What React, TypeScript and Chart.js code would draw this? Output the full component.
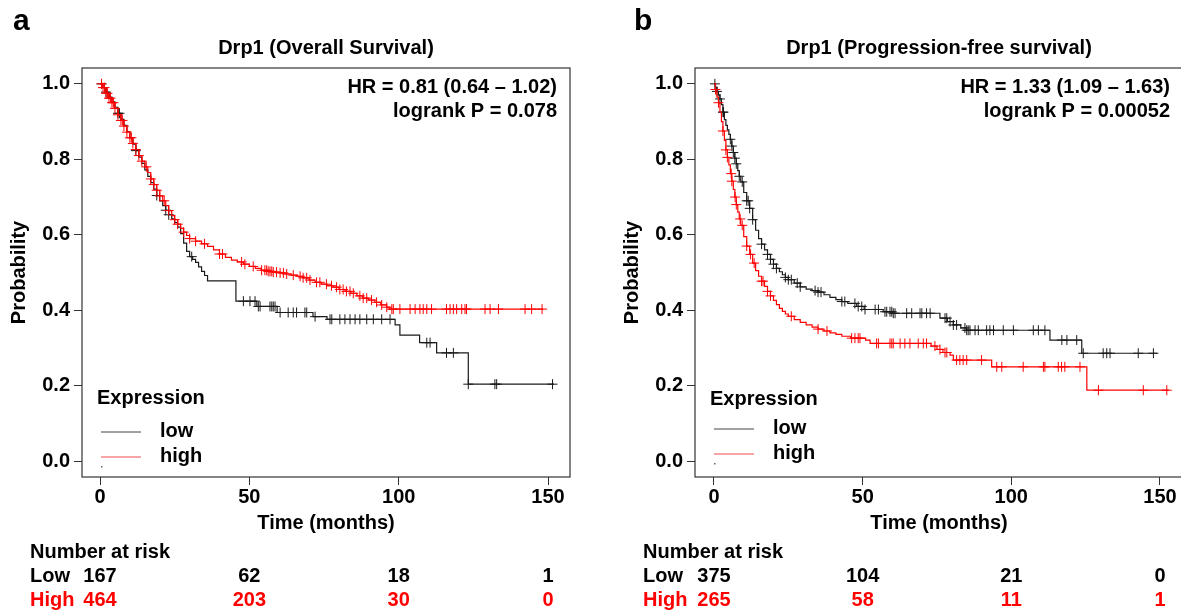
import React, { useEffect, useRef } from 'react';
import { Chart, registerables } from 'chart.js';

Chart.register(...registerables);

// ---------- Data ----------
const X_TICKS = [0, 50, 100, 150];
const Y_TICKS = [0, 0.2, 0.4, 0.6, 0.8, 1.0];

// Panel a : Overall survival  [time (months), survival]
const OS_LOW_STEPS: [number, number][] = [
  [0, 1], [1, 0.99], [2, 0.978], [3, 0.965], [4, 0.952], [5, 0.938], [6, 0.922], [7, 0.906], [8, 0.89], [9, 0.873],
  [10, 0.857], [11, 0.84], [12, 0.823], [13, 0.806], [14, 0.789], [15, 0.772], [16, 0.755], [17, 0.738], [18, 0.721],
  [19, 0.704], [20, 0.69], [21, 0.677], [22, 0.665], [23, 0.653], [24, 0.642], [25, 0.632], [26, 0.62], [27, 0.603],
  [28, 0.578], [29, 0.556], [30, 0.542], [31, 0.535], [32, 0.527], [33, 0.515], [34, 0.503], [35, 0.492], [36, 0.478],
  [45.5, 0.424], [52.5, 0.41], [59.3, 0.394], [71.3, 0.383], [76, 0.376], [98.8, 0.361], [100.4, 0.334], [107, 0.314],
  [112.7, 0.287], [123.3, 0.204], [152, 0.204],
];
const OS_LOW_CENSOR = [
  0.5, 2, 6, 6.5, 12, 19, 22, 23, 30.7, 48, 50.2, 51.9, 53, 53.6, 56.9, 57.5, 58, 58.6, 60.3, 63, 64.7, 65.8, 68.6,
  69.2, 72, 77, 77.6, 80.3, 82, 83.7, 85.4, 87, 89.3, 91.5, 94.3, 97.1, 109.4, 110.5, 116, 118.3, 123.3, 132.2, 132.8,
  151.5,
];
const OS_HIGH_STEPS: [number, number][] = [
  [0, 1], [1, 0.99], [2, 0.975], [3, 0.962], [4, 0.95], [5, 0.935], [6, 0.918], [7, 0.903], [8, 0.888], [9, 0.872],
  [10, 0.857], [11, 0.842], [12, 0.826], [13, 0.81], [14, 0.795], [15, 0.78], [16, 0.765], [17, 0.748], [18, 0.733],
  [19, 0.718], [20, 0.703], [21, 0.69], [22, 0.677], [23, 0.664], [24, 0.651], [25, 0.64], [26, 0.628], [27, 0.617],
  [28, 0.607], [29, 0.598], [30, 0.59], [32, 0.583], [34, 0.576], [36, 0.569], [38, 0.56], [40, 0.549], [42, 0.54],
  [44, 0.533], [46, 0.528], [48, 0.522], [50, 0.516], [52, 0.511], [54, 0.506], [56, 0.503], [58, 0.501], [60, 0.499],
  [62, 0.496], [64, 0.493], [66, 0.49], [68, 0.486], [70, 0.48], [72, 0.474], [74, 0.469], [76, 0.465], [78, 0.461],
  [80, 0.455], [82, 0.45], [84, 0.445], [86, 0.438], [88, 0.432], [90, 0.427], [92, 0.421], [94, 0.414], [96, 0.408],
  [97, 0.403], [148.4, 0.403],
];
const OS_HIGH_CENSOR = [
  0.5, 1, 1.5, 2, 2.5, 3, 3.5, 4, 4.5, 5, 6, 7, 7.5, 8, 9, 10, 10.5, 11, 12, 13, 14, 15.5, 17, 18, 19, 20, 21.5, 23,
  25, 26, 28, 30, 32, 35, 40, 41, 47.4, 48.5, 51.3, 54.1, 55.2, 55.8, 56.3, 56.9, 57.5, 58, 59.1, 60.3, 61.4, 62.5,
  64.7, 67, 68, 69.2, 70.3, 72.5, 73.6, 75.8, 77.5, 79.2, 80.3, 81.4, 82.5, 83.7, 84.8, 87, 88.1, 89.3, 90.9, 92.6,
  94.3, 96, 97.7, 98.2, 100.4, 103.8, 105.5, 107.1, 108.2, 109.4, 111, 116, 117.2, 118.3, 119.4, 121.1, 122.2, 122.7,
  128.9, 130.6, 133.4, 142.3, 144.5, 148,
];
const OS_RISK_LOW = [167, 62, 18, 1];
const OS_RISK_HIGH = [464, 203, 30, 0];

// Panel b : Progression-free survival
const PFS_LOW_STEPS: [number, number][] = [
  [0, 1], [0.5, 0.99], [1, 0.98], [1.5, 0.97], [2, 0.96], [2.5, 0.945], [3, 0.925], [3.5, 0.905], [4, 0.89],
  [4.5, 0.878], [5, 0.866], [5.5, 0.853], [6, 0.835], [6.5, 0.818], [7, 0.803], [7.5, 0.788], [8, 0.77], [8.5, 0.755],
  [9, 0.74], [10, 0.712], [11, 0.69], [12, 0.67], [13, 0.64], [14, 0.612], [15, 0.59], [16, 0.575], [17, 0.56],
  [18, 0.548], [19, 0.535], [20, 0.522], [21, 0.511], [22, 0.502], [23, 0.494], [24, 0.487], [25, 0.481], [27, 0.472],
  [29, 0.462], [31, 0.456], [33, 0.452], [35, 0.448], [37, 0.441], [39, 0.434], [41, 0.428], [43, 0.423], [45, 0.418],
  [48, 0.41], [50.5, 0.402], [56.9, 0.396], [60, 0.392], [76, 0.379], [78.5, 0.37], [80.5, 0.361], [83, 0.353],
  [85, 0.347], [113, 0.321], [123.7, 0.286], [149, 0.286],
];
const PFS_LOW_CENSOR = [
  0.3, 1, 2, 3, 3.2, 5.5, 6, 6.5, 7, 7.5, 8.5, 9.5, 11, 11.5, 12, 13, 16, 18, 19, 20, 21, 24, 25, 26, 28, 29, 34, 35,
  36, 43, 44, 47.4, 48.5, 49.7, 50.8, 54.2, 55.3, 57.5, 58.1, 59.2, 59.8, 60.3, 60.9, 64.8, 66.5, 69.3, 69.9, 71.5,
  72.7, 77.7, 78.3, 79.4, 80.5, 81.6, 84.4, 85, 85.5, 86.1, 87.8, 88.9, 91.7, 92.8, 94, 97.3, 100.7, 107.4, 109.1,
  111.3, 117, 118.7, 122, 124.2, 130.9, 132.1, 133.2, 142.7, 147.8,
];
const PFS_HIGH_STEPS: [number, number][] = [
  [0, 1], [0.5, 0.985], [1, 0.965], [1.5, 0.95], [2, 0.925], [2.5, 0.9], [3, 0.875], [3.5, 0.85], [4, 0.825],
  [4.5, 0.805], [5, 0.785], [5.5, 0.762], [6, 0.742], [6.5, 0.72], [7, 0.7], [7.5, 0.68], [8, 0.66], [8.5, 0.642],
  [9, 0.625], [10, 0.595], [11, 0.57], [12, 0.548], [13, 0.525], [14, 0.505], [15, 0.49], [16, 0.477], [17, 0.463],
  [18, 0.45], [19, 0.438], [20, 0.426], [21, 0.415], [22, 0.405], [23, 0.397], [24, 0.39], [25, 0.384], [27, 0.375],
  [29, 0.368], [31, 0.361], [33, 0.355], [35, 0.35], [37, 0.345], [39, 0.34], [41, 0.336], [43, 0.331], [46, 0.326],
  [51, 0.321], [52.5, 0.312], [73, 0.305], [75, 0.296], [77, 0.288], [79.4, 0.281], [80.5, 0.268], [93.4, 0.25],
  [125.4, 0.188], [153, 0.188],
];
const PFS_HIGH_CENSOR = [
  0.5, 1.5, 3, 4, 4.5, 5.8, 6, 7.1, 7.5, 8.8, 9.5, 11, 12.3, 13.5, 16, 16.5, 18, 19, 26, 35, 38, 46.3, 47.4, 48.5,
  49.1, 54.7, 55.3, 59.2, 59.8, 60.3, 62.6, 64.2, 65.9, 68.7, 70.4, 71.5, 74.3, 76, 77.7, 78.3, 81.6, 82.7, 83.8, 85,
  90, 95.1, 96.8, 104, 110.8, 111.3, 115.8, 116.9, 118, 123.1, 129.3, 144.4, 152.3,
];
const PFS_RISK_LOW = [375, 104, 21, 0];
const PFS_RISK_HIGH = [265, 58, 11, 1];

// ---------- helpers ----------
const FONT = '"Liberation Sans", Arial, Helvetica, sans-serif';
const bold = (px: number) => `bold ${px}px ${FONT}`;
const LOW_COLOR = '#1a1a1a';
const HIGH_COLOR = '#ff0000';

function survAt(steps: [number, number][], t: number) {
  let s = 1;
  for (const [st, sv] of steps) {
    if (st <= t) s = sv;
    else break;
  }
  return s;
}

type PanelCfg = {
  letter: string;
  title: string;
  hr: string;
  p: string;
  lowSteps: [number, number][];
  lowCensor: number[];
  highSteps: [number, number][];
  highCensor: number[];
  riskLow: number[];
  riskHigh: number[];
  xMin: number;
  xMax: number;
  yAxisWidth: number;
  padRight: number;
  letterX: number;
  yTitleX: number;
  hrRight: number;
  legendX: number;
  legendY: [number, number, number];
  riskX: number;
};

const PANEL_A: PanelCfg = {
  letter: 'a',
  title: 'Drp1 (Overall Survival)',
  hr: 'HR = 0.81 (0.64 \u2013 1.02)',
  p: 'logrank P = 0.078',
  lowSteps: OS_LOW_STEPS,
  lowCensor: OS_LOW_CENSOR,
  highSteps: OS_HIGH_STEPS,
  highCensor: OS_HIGH_CENSOR,
  riskLow: OS_RISK_LOW,
  riskHigh: OS_RISK_HIGH,
  xMin: -6.03,
  xMax: 157.35,
  yAxisWidth: 82,
  padRight: 30,
  letterX: 13,
  yTitleX: 19,
  hrRight: 557,
  legendX: 97,
  legendY: [398, 431, 456],
  riskX: 30,
};

const PANEL_B: PanelCfg = {
  letter: 'b',
  title: 'Drp1 (Progression-free survival)',
  hr: 'HR = 1.33 (1.09 \u2013 1.63)',
  p: 'logrank P = 0.00052',
  lowSteps: PFS_LOW_STEPS,
  lowCensor: PFS_LOW_CENSOR,
  highSteps: PFS_HIGH_STEPS,
  highCensor: PFS_HIGH_CENSOR,
  riskLow: PFS_RISK_LOW,
  riskHigh: PFS_RISK_HIGH,
  xMin: -6.39,
  xMax: 157.75,
  yAxisWidth: 95,
  padRight: 17,
  letterX: 34,
  yTitleX: 32,
  hrRight: 570,
  legendX: 110,
  legendY: [399, 428, 453],
  riskX: 43,
};

function makeConfig(cfg: PanelCfg): any {
  const decor = {
    id: 'kmDecor',
    afterDraw(chart: any) {
      const { ctx, chartArea: a, scales } = chart;
      const xs = scales.x;
      ctx.save();
      // plot box
      ctx.strokeStyle = '#333';
      ctx.lineWidth = 1.2;
      ctx.strokeRect(a.left, a.top, a.right - a.left, a.bottom - a.top);

      ctx.fillStyle = '#000';
      // panel letter
      ctx.font = bold(30);
      ctx.textAlign = 'left';
      ctx.textBaseline = 'alphabetic';
      ctx.fillText(cfg.letter, cfg.letterX, 30);

      // title
      ctx.font = bold(20);
      ctx.textAlign = 'center';
      ctx.textBaseline = 'middle';
      ctx.fillText(cfg.title, (a.left + a.right) / 2, 48);

      // HR / p-value
      ctx.textAlign = 'right';
      ctx.fillText(cfg.hr, cfg.hrRight, 87);
      ctx.fillText(cfg.p, cfg.hrRight, 111);

      // legend
      const [yE, yL, yH] = cfg.legendY;
      ctx.textAlign = 'left';
      ctx.fillText('Expression', cfg.legendX, yE);
      ctx.fillText('low', cfg.legendX + 63, yL);
      ctx.fillText('high', cfg.legendX + 63, yH);
      ctx.lineWidth = 1;
      ctx.strokeStyle = '#444';
      ctx.beginPath();
      ctx.moveTo(cfg.legendX + 4, yL + 1);
      ctx.lineTo(cfg.legendX + 44, yL + 1);
      ctx.stroke();
      ctx.strokeStyle = '#f24a4a';
      ctx.beginPath();
      ctx.moveTo(cfg.legendX + 4, yH + 1);
      ctx.lineTo(cfg.legendX + 44, yH + 1);
      ctx.stroke();
      ctx.fillStyle = '#666';
      ctx.fillRect(cfg.legendX + 4, yH + 10, 1.5, 1.5);
      ctx.fillStyle = '#000';

      // axis titles
      ctx.textAlign = 'center';
      ctx.fillText('Time (months)', (a.left + a.right) / 2, 523);
      ctx.save();
      ctx.translate(cfg.yTitleX, (a.top + a.bottom) / 2);
      ctx.rotate(-Math.PI / 2);
      ctx.fillText('Probability', 0, 0);
      ctx.restore();

      // number at risk
      ctx.textAlign = 'left';
      ctx.fillText('Number at risk', cfg.riskX, 552);
      ctx.fillText('Low', cfg.riskX, 576);
      ctx.fillStyle = HIGH_COLOR;
      ctx.fillText('High', cfg.riskX, 600);
      ctx.textAlign = 'center';
      X_TICKS.forEach((t, i) => {
        const px = xs.getPixelForValue(t);
        ctx.fillStyle = '#000';
        ctx.fillText(String(cfg.riskLow[i]), px, 576);
        ctx.fillStyle = HIGH_COLOR;
        ctx.fillText(String(cfg.riskHigh[i]), px, 600);
      });
      ctx.restore();
    },
  };

  const toPts = (steps: [number, number][]) => steps.map(([x, y]) => ({ x, y }));
  const censPts = (steps: [number, number][], cens: number[]) => cens.map((t) => ({ x: t, y: survAt(steps, t) }));

  return {
    type: 'scatter',
    data: {
      datasets: [
        {
          label: 'high',
          data: toPts(cfg.highSteps),
          showLine: true,
          stepped: 'before',
          borderColor: HIGH_COLOR,
          borderWidth: 1.2,
          pointRadius: 0,
          fill: false,
          order: 1,
        },
        {
          label: 'high censored',
          data: censPts(cfg.highSteps, cfg.highCensor),
          showLine: false,
          pointStyle: 'cross',
          pointRadius: 5,
          borderColor: HIGH_COLOR,
          backgroundColor: HIGH_COLOR,
          pointBorderWidth: 1,
          order: 0,
        },
        {
          label: 'low',
          data: toPts(cfg.lowSteps),
          showLine: true,
          stepped: 'before',
          borderColor: LOW_COLOR,
          borderWidth: 1.2,
          pointRadius: 0,
          fill: false,
          order: 3,
        },
        {
          label: 'low censored',
          data: censPts(cfg.lowSteps, cfg.lowCensor),
          showLine: false,
          pointStyle: 'cross',
          pointRadius: 5,
          borderColor: LOW_COLOR,
          backgroundColor: LOW_COLOR,
          pointBorderWidth: 1,
          order: 2,
        },
      ],
    },
    options: {
      responsive: false,
      animation: false,
      devicePixelRatio: 1,
      layout: { padding: { left: 0, right: cfg.padRight, top: 68, bottom: 93 } },
      plugins: {
        legend: { display: false },
        tooltip: { enabled: false },
        title: { display: false },
      },
      scales: {
        x: {
          type: 'linear',
          min: cfg.xMin,
          max: cfg.xMax,
          afterBuildTicks: (scale: any) => {
            scale.ticks = X_TICKS.map((v) => ({ value: v }));
          },
          afterFit: (scale: any) => {
            scale.height = 40;
          },
          grid: { drawOnChartArea: false, drawTicks: true, tickLength: 8, color: '#333', lineWidth: 1 },
          border: { display: false },
          ticks: {
            color: '#000',
            font: { family: FONT, size: 20, weight: 'bold' },
            padding: 0,
            maxRotation: 0,
            autoSkip: false,
            callback: (v: any) => String(v),
          },
        },
        y: {
          type: 'linear',
          min: -0.042,
          max: 1.042,
          afterBuildTicks: (scale: any) => {
            scale.ticks = Y_TICKS.map((v) => ({ value: v }));
          },
          afterFit: (scale: any) => {
            scale.width = cfg.yAxisWidth;
          },
          grid: { drawOnChartArea: false, drawTicks: true, tickLength: 8, color: '#333', lineWidth: 1 },
          border: { display: false },
          ticks: {
            color: '#000',
            font: { family: FONT, size: 20, weight: 'bold' },
            padding: 4,
            autoSkip: false,
            callback: (v: any) => Number(v).toFixed(1),
          },
        },
      },
    },
    plugins: [decor],
  };
}

function Panel({ cfg, left, width }: { cfg: PanelCfg; left: number; width: number }) {
  const ref = useRef<HTMLCanvasElement>(null);
  useEffect(() => {
    if (!ref.current) return;
    const chart = new Chart(ref.current, makeConfig(cfg));
    return () => chart.destroy();
  }, [cfg]);
  return (
    <canvas
      ref={ref}
      width={width}
      height={610}
      style={{ position: 'absolute', left, top: 0, width, height: 610, display: 'block' }}
    />
  );
}

export default function App() {
  return (
    <div
      style={{
        position: 'fixed',
        left: 0,
        top: 0,
        width: 1181,
        height: 610,
        overflow: 'hidden',
        background: '#ffffff',
      }}
    >
      <Panel cfg={PANEL_A} left={0} width={600} />
      <Panel cfg={PANEL_B} left={600} width={600} />
    </div>
  );
}
